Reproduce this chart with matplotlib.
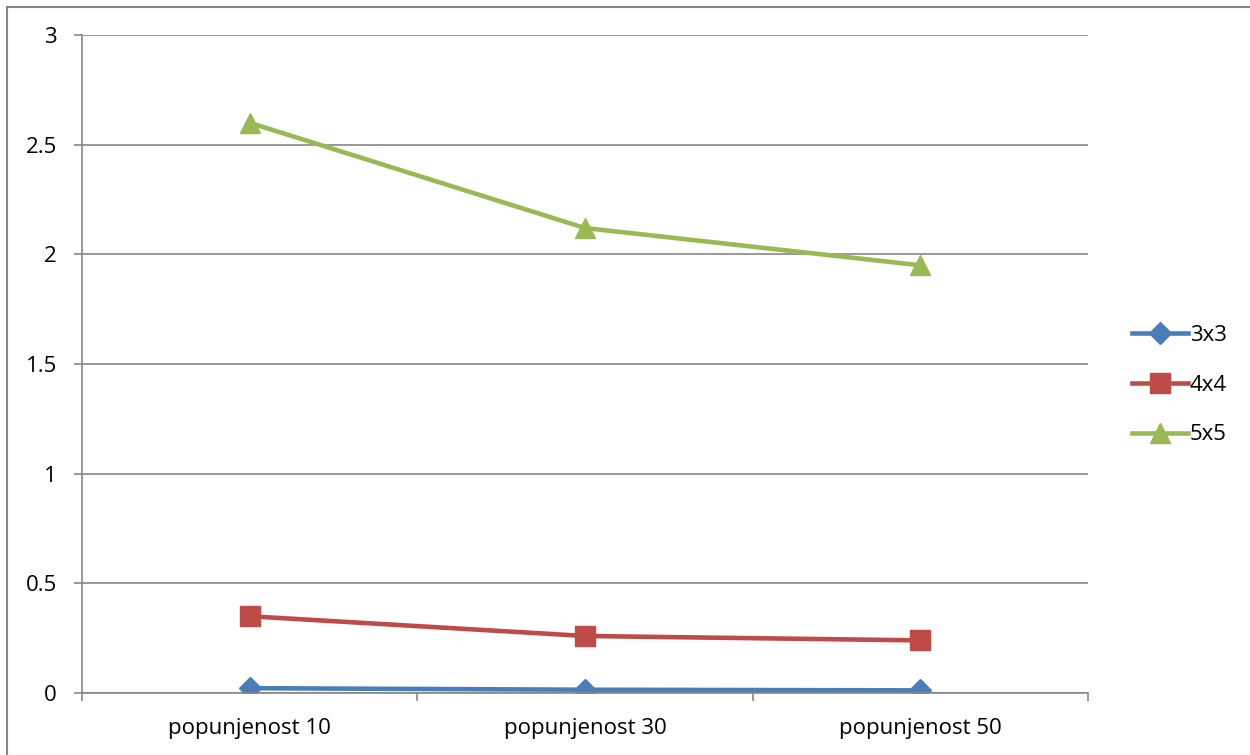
import matplotlib.pyplot as plt
from matplotlib.patches import Rectangle

# Podaci po popunjenosti
kategorije = ['popunjenost 10', 'popunjenost 30', 'popunjenost 50']
v3x3 = [0.022, 0.015, 0.012]
v4x4 = [0.35, 0.26, 0.24]
v5x5 = [2.60, 2.12, 1.95]
oznake = ['3x3', '4x4', '5x5']

plt.rcParams['font.family'] = ['Open Sans', 'DejaVu Sans']
plt.rcParams['font.size'] = 16

fig = plt.figure(figsize=(12.5, 7.55), dpi=100)
ax = fig.add_axes([0.0656, 0.0821, 0.8048, 0.8715])

# Okvir grafikona
fig.patches.append(Rectangle((7 / 1250, -0.1), 1.2, 1 - 7 / 755 + 0.1,
                             transform=fig.transFigure, fill=False,
                             edgecolor='#868686', linewidth=1.5))

x = range(len(kategorije))
ax.plot(x, v3x3, color='#4A7EBB', lw=3.3, marker='D', ms=11.5, label=oznake[0])
ax.plot(x, v4x4, color='#BE4B48', lw=3.3, marker='s', ms=14, label=oznake[1])
ax.plot(x, v5x5, color='#98B954', lw=3.3, marker='^', ms=15, label=oznake[2])

ax.set_xlim(-0.5, 2.5)
ax.set_ylim(0, 3)
ax.set_yticks([0, 0.5, 1, 1.5, 2, 2.5, 3])
ax.set_yticklabels(['0', '0.5', '1', '1.5', '2', '2.5', '3'])
ax.set_xticks(list(x))
ax.set_xticklabels(kategorije)
ax.set_xticks([-0.5, 0.5, 1.5, 2.5], minor=True)
ax.tick_params(axis='x', which='major', length=0, pad=18)
ax.tick_params(axis='x', which='minor', length=6, color='#868686', width=1.2)
ax.tick_params(axis='y', length=6, color='#868686', width=1.2, pad=12)
ax.grid(axis='y', color='#868686', lw=1.2)
ax.set_axisbelow(True)

for s in ['top', 'right']:
    ax.spines[s].set_visible(False)
for s in ['left', 'bottom']:
    ax.spines[s].set_color('#868686')
    ax.spines[s].set_linewidth(1.2)

ax.legend(loc='center left', bbox_to_anchor=(1.024, 0.468), frameon=False,
          handlelength=2.5, handletextpad=0.1, labelspacing=1.3)

fig.savefig('out.png', dpi=100)
